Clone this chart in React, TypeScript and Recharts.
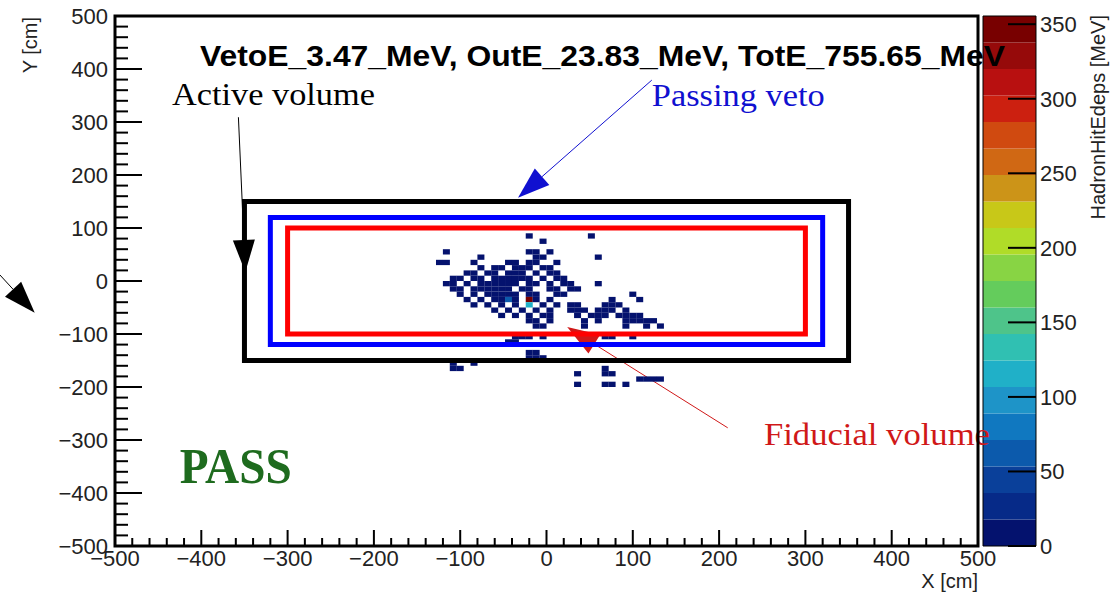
import React from 'react';
import {
  ScatterChart,
  Scatter,
  XAxis,
  YAxis,
  ReferenceArea,
  ReferenceLine,
  ReferenceDot,
} from 'recharts';

const W = 1113;
const H = 593;

// ---------- axes ----------
const axisTicks = [
  -500, -480, -460, -440, -420, -400, -380, -360, -340, -320, -300, -280, -260, -240, -220,
  -200, -180, -160, -140, -120, -100, -80, -60, -40, -20, 0, 20, 40, 60, 80, 100, 120, 140,
  160, 180, 200, 220, 240, 260, 280, 300, 320, 340, 360, 380, 400, 420, 440, 460, 480, 500,
];
const majorLabels = [-500, -400, -300, -200, -100, 0, 100, 200, 300, 400, 500];
const zTicks = [0, 50, 100, 150, 200, 250, 300, 350];
const Z_MAX = 355.5;
const N_BANDS = 20;

// palette bottom -> top
const palette = [
  '#04126e', '#062a88', '#0a409a', '#0c5aac', '#1078c0', '#1e94c8', '#20b0c8', '#30c0b2',
  '#4ec48a', '#64cc5c', '#88d444', '#b0dc28', '#c8c818', '#cc9418', '#d06814', '#d04a10',
  '#cc2010', '#b81010', '#960a0a', '#780000',
];

// ---------- volumes ----------
const activeVolume = { x1: -350, x2: 350, y1: -150, y2: 150 };
const vetoVolume = { x1: -320, x2: 320, y1: -120, y2: 120 };
const fiducialVolume = { x1: -300, x2: 300, y1: -100, y2: 100 };

// ---------- hits: [x cm, y cm, energy MeV] ----------
const hits: [number, number, number][] = [
  [-20, 85, 5], [52, 85, 3], [-4, 75, 4],
  [-20, 55, 6], [-12, 55, 3], [4, 55, 4], [-116, 55, 5],
  [-76, 45, 4], [-12, 45, 7], [-4, 45, 5], [60, 45, 3],
  [-124, 35, 6], [-116, 35, 5], [-84, 35, 4], [-44, 35, 6], [-36, 35, 9], [-20, 35, 4], [-12, 35, 5], [12, 35, 3],
  [-76, 25, 5], [-60, 25, 8], [-52, 25, 6], [-36, 25, 11], [-28, 25, 6], [-20, 25, 5], [-4, 25, 4], [4, 25, 3],
  [-92, 15, 4], [-84, 15, 6], [-68, 15, 9], [-60, 15, 12], [-44, 15, 13], [-36, 15, 8], [-28, 15, 9], [-12, 15, 5], [4, 15, 4], [12, 15, 3],
  [-108, 5, 5], [-100, 5, 4], [-84, 5, 7], [-76, 5, 8], [-60, 5, 13], [-52, 5, 14], [-44, 5, 12], [-36, 5, 9], [-28, 5, 10], [-20, 5, 9], [-4, 5, 5], [12, 5, 4], [20, 5, 3],
  [-116, -5, 4], [-108, -5, 6], [-92, -5, 5], [-76, -5, 9], [-68, -5, 12], [-60, -5, 11], [-52, -5, 15], [-44, -5, 16], [-36, -5, 13], [-20, -5, 10], [-12, -5, 8], [4, -5, 5], [20, -5, 4], [28, -5, 3], [60, -5, 3],
  [-108, -15, 5], [-100, -15, 6], [-84, -15, 7], [-76, -15, 10], [-68, -15, 9], [-60, -15, 15], [-52, -15, 16], [-44, -15, 14], [-28, -15, 11], [-20, -15, 9], [4, -15, 5], [12, -15, 4], [28, -15, 3], [36, -15, 4],
  [-100, -25, 5], [-84, -25, 6], [-68, -25, 11], [-60, -25, 13], [-52, -25, 10], [-44, -25, 14], [-36, -25, 11], [-20, -25, 8], [-12, -25, 7], [12, -25, 4], [20, -25, 3], [100, -25, 4],
  [-92, -35, 4], [-76, -35, 6], [-60, -35, 9], [-52, -35, 10], [-44, -35, 70], [-36, -35, 11], [-20, -35, 350], [-12, -35, 7], [4, -35, 4], [76, -35, 5], [108, -35, 3],
  [-84, -45, 5], [-68, -45, 6], [-52, -45, 8], [-36, -45, 7], [-20, -45, 110], [-4, -45, 5], [12, -45, 4], [28, -45, 3], [36, -45, 4], [68, -45, 5], [76, -45, 6], [84, -45, 4],
  [-60, -55, 5], [-44, -55, 6], [-28, -55, 7], [-12, -55, 6], [4, -55, 4], [28, -55, 3], [36, -55, 5], [44, -55, 4], [60, -55, 6], [68, -55, 7], [76, -55, 5], [92, -55, 4],
  [-52, -65, 4], [-36, -65, 5], [-20, -65, 6], [-4, -65, 7], [4, -65, 5], [36, -65, 4], [52, -65, 3], [60, -65, 5], [68, -65, 6], [84, -65, 4], [92, -65, 6], [100, -65, 5], [108, -65, 4],
  [-20, -75, 5], [-12, -75, 6], [4, -75, 4], [44, -75, 3], [60, -75, 4], [92, -75, 5], [100, -75, 6], [108, -75, 4], [116, -75, 5], [124, -75, 3],
  [-12, -85, 5], [-4, -85, 4], [44, -85, 3], [92, -85, 4], [116, -85, 3], [132, -85, 4],
  [-36, -105, 4], [-28, -105, 5], [-20, -105, 6], [-4, -105, 5], [68, -105, 4], [76, -105, 3], [100, -105, 4],
  [-44, -115, 4], [-36, -115, 5],
  [-20, -135, 5], [-12, -135, 4],
  [-20, -145, 6], [-12, -145, 5], [-4, -145, 4],
  [-108, -155, 4], [-84, -155, 3],
  [-108, -165, 5], [-100, -165, 4], [68, -165, 4],
  [36, -175, 3], [68, -175, 5], [76, -175, 4],
  [108, -185, 4], [116, -185, 5], [124, -185, 4], [132, -185, 3],
  [36, -195, 4], [68, -195, 5], [76, -195, 3], [92, -195, 4],
];

const data = hits.map(([x, y, e]) => ({ x, y, e }));
const bands = palette.map((c, i) => ({ lo: (i * Z_MAX) / N_BANDS, hi: ((i + 1) * Z_MAX) / N_BANDS, c }));

const colorOf = (e: number) => palette[Math.min(N_BANDS - 1, Math.floor(e / (Z_MAX / N_BANDS)))];

const SANS = '"Liberation Sans", Arial, Helvetica, sans-serif';
const SERIF = '"Liberation Serif", "Times New Roman", serif';
const fmt = (v: number) => (v < 0 ? '\u2212' + Math.abs(v) : String(v));
const isMajor = (v: number) => majorLabels.includes(v);

const XTick = (p: any) => {
  const { x, y, payload } = p;
  const v = payload.value;
  const major = isMajor(v);
  return (
    <g>
      <line x1={x} x2={x} y1={y} y2={y - (major ? 16 : 8)} stroke="#000" strokeWidth={2} />
      {major && (
        <text x={x} y={y + 20} textAnchor="middle" fontSize={22} fontFamily={SANS} fill="#222">
          {fmt(v)}
        </text>
      )}
    </g>
  );
};

const YTick = (p: any) => {
  const { x, y, payload } = p;
  const v = payload.value;
  const major = isMajor(v);
  return (
    <g>
      <line x1={x} x2={x + (major ? 27 : 13)} y1={y} y2={y} stroke="#000" strokeWidth={2} />
      {major && (
        <text x={x - 7} y={y + 8} textAnchor="end" fontSize={22} fontFamily={SANS} fill="#222">
          {fmt(v)}
        </text>
      )}
    </g>
  );
};

const ZTick = (p: any) => {
  const { x, y, payload } = p;
  return (
    <g>
      <line x1={x + 30} x2={x + 58} y1={y} y2={y} stroke="#000" strokeWidth={2} />
      <text x={x + 62} y={y + 8} textAnchor="start" fontSize={22} fontFamily={SANS} fill="#222">
        {payload.value}
      </text>
    </g>
  );
};

const HitShape = (p: any) => {
  const { cx, cy, payload } = p;
  return <rect x={cx - 3.5} y={cy - 2.65} width={7} height={5.3} fill={colorOf(payload.e)} />;
};

const makeArrow = (color: string) => (p: any) => {
  const { x1, y1, x2, y2 } = p;
  const dx = x2 - x1;
  const dy = y2 - y1;
  const len = Math.sqrt(dx * dx + dy * dy) || 1;
  const ux = dx / len;
  const uy = dy / len;
  const L = 32;
  const hw = 11;
  const bx = x2 - ux * L;
  const by = y2 - uy * L;
  const pts = `${x2},${y2} ${bx - uy * hw},${by + ux * hw} ${bx + uy * hw},${by - ux * hw}`;
  return (
    <g>
      <line x1={x1} y1={y1} x2={bx} y2={by} stroke={color} strokeWidth={1} />
      <polygon points={pts} fill={color} />
    </g>
  );
};

const makeText = (txt: string, color: string, size: number, width: number, bold = false) => (p: any) => (
  <text
    x={p.cx}
    y={p.cy}
    fill={color}
    fontSize={size}
    fontFamily={SERIF}
    fontWeight={bold ? 'bold' : 'normal'}
    textLength={width}
    lengthAdjust="spacingAndGlyphs"
  >
    {txt}
  </text>
);

const Overlay = () => (
  <svg
    width={W}
    height={H}
    style={{ position: 'absolute', left: 0, top: 0, pointerEvents: 'none' }}
  >
    <text x={37} y={17} transform="rotate(-90 37 17)" textAnchor="end" fontSize={20} fontFamily={SANS} fill="#222">
      Y [cm]
    </text>
    <text x={978} y={588} textAnchor="end" fontSize={20} fontFamily={SANS} fill="#222">
      X [cm]
    </text>
    <text x={1105} y={15} transform="rotate(-90 1105 15)" textAnchor="end" fontSize={20} fontFamily={SANS} fill="#222">
      HadronHitEdeps [MeV]
    </text>
    <text
      x={200}
      y={66}
      fontSize={29}
      fontWeight="bold"
      fontFamily={SANS}
      fill="#000"
      textLength={805}
      lengthAdjust="spacingAndGlyphs"
    >
      VetoE_3.47_MeV, OutE_23.83_MeV, TotE_755.65_MeV
    </text>
  </svg>
);

export default function App() {
  return (
    <div style={{ position: 'absolute', left: 0, top: 0, width: W, height: H, background: '#fff' }}>
      <ScatterChart width={W} height={H} margin={{ top: 16, right: 0, bottom: 0, left: 0 }}>
        <XAxis
          type="number"
          dataKey="x"
          domain={[-500, 500]}
          ticks={axisTicks}
          interval={0}
          allowDataOverflow
          height={47}
          tickSize={0}
          tickMargin={0}
          axisLine={false}
          tickLine={false}
          tick={<XTick />}
        />
        <YAxis
          type="number"
          dataKey="y"
          domain={[-500, 500]}
          ticks={axisTicks}
          interval={0}
          allowDataOverflow
          width={115}
          tickSize={0}
          tickMargin={0}
          axisLine={false}
          tickLine={false}
          tick={<YTick />}
        />
        <YAxis
          yAxisId="z"
          orientation="right"
          type="number"
          domain={[0, Z_MAX]}
          ticks={zTicks}
          interval={0}
          allowDataOverflow
          width={135}
          tickSize={0}
          tickMargin={0}
          axisLine={false}
          tickLine={false}
          tick={<ZTick />}
        />
        {bands.map((b, i) => (
          <ReferenceArea
            key={'band' + i}
            yAxisId="z"
            x1={505.8}
            x2={567.2}
            y1={b.lo}
            y2={b.hi}
            fill={b.c}
            fillOpacity={1}
            stroke="none"
            ifOverflow="visible"
          />
        ))}
        <ReferenceArea
          yAxisId="z"
          x1={505.8}
          x2={567.2}
          y1={0}
          y2={Z_MAX}
          fill="none"
          stroke="#000"
          strokeWidth={1}
          ifOverflow="visible"
        />
        <Scatter data={data} isAnimationActive={false} shape={<HitShape />} />
        <ReferenceArea {...activeVolume} fill="none" stroke="#000" strokeWidth={5} ifOverflow="visible" zIndex={700} />
        <ReferenceArea {...vetoVolume} fill="none" stroke="#0000ff" strokeWidth={5} ifOverflow="visible" zIndex={700} />
        <ReferenceArea {...fiducialVolume} fill="none" stroke="#ff0000" strokeWidth={5} ifOverflow="visible" zIndex={700} />
        <ReferenceArea x1={-500} x2={500} y1={-500} y2={500} fill="none" stroke="#000" strokeWidth={3} ifOverflow="visible" zIndex={700} />
        <ReferenceLine segment={[{ x: -357, y: 309 }, { x: -349, y: 17 }]} ifOverflow="visible" shape={makeArrow('#000')} />
        <ReferenceLine segment={[{ x: 122, y: 379 }, { x: -33, y: 157 }]} ifOverflow="visible" shape={makeArrow('#1010d0')} />
        <ReferenceLine segment={[{ x: 210, y: -277 }, { x: 24, y: -87 }]} ifOverflow="visible" shape={makeArrow('#d01818')} />
        <ReferenceLine segment={[{ x: -645, y: 32 }, { x: -593, y: -60 }]} ifOverflow="visible" shape={makeArrow('#000')} />
        <ReferenceDot x={-434} y={332} ifOverflow="visible" shape={makeText('Active volume', '#000', 32, 203)} />
        <ReferenceDot x={122} y={330} ifOverflow="visible" shape={makeText('Passing veto', '#1010d0', 32, 173)} />
        <ReferenceDot x={252} y={-309} ifOverflow="visible" shape={makeText('Fiducial volume', '#d01818', 32, 226)} />
        <ReferenceDot x={-425} y={-381} ifOverflow="visible" shape={makeText('PASS', '#1e6b1e', 50, 112, true)} />
      </ScatterChart>
      <Overlay />
    </div>
  );
}
